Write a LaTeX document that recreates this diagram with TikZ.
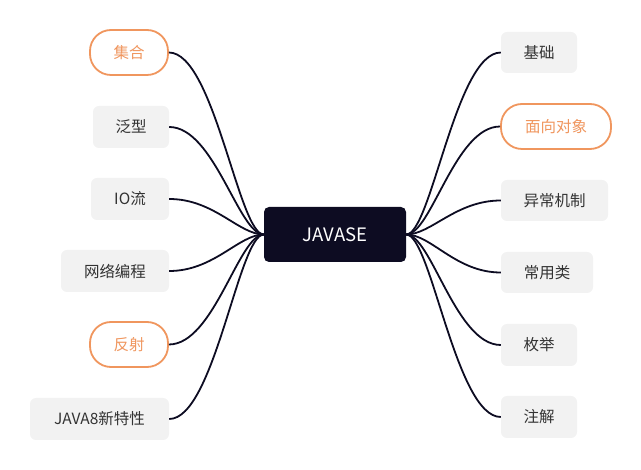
\documentclass[tikz,border=0pt]{standalone}
\usepackage{fontspec}
\newfontfamily\cjk{Noto Sans CJK SC}
\definecolor{orangeC}{HTML}{F0965E}
\definecolor{grayfill}{HTML}{F2F2F2}
\definecolor{navy}{HTML}{0D0C22}
\definecolor{txt}{HTML}{333333}
\tikzset{
  leaf/.style={fill=grayfill, rounded corners=6pt, inner sep=0pt, text=txt, font=\cjk\fontsize{15.5}{17}\selectfont},
  pill/.style={draw=orangeC, line width=1.8pt, fill=white, rounded corners=21pt, inner sep=0pt, text=orangeC, font=\cjk\fontsize{15.5}{17}\selectfont},
  root/.style={fill=navy, rounded corners=5pt, inner sep=0pt, text=white, font=\cjk\fontsize{18.5}{20}\selectfont},
  link/.style={draw=navy, line width=1.8pt}
}
\begin{document}
\begin{tikzpicture}[x=1pt,y=-1pt]
\useasboundingbox (0,0) rectangle (641,470);
\node[root, minimum width=142pt, minimum height=55pt] (c) at (335,234.5) {JAVASE};
% left
\node[pill, minimum width=78pt, minimum height=45pt] (l1) at (129,52.5) {集合};
\node[leaf, minimum width=76pt, minimum height=42pt] (l2) at (131,127) {泛型};
\node[leaf, minimum width=78pt, minimum height=42pt] (l3) at (130,199) {IO流};
\node[leaf, minimum width=108pt, minimum height=42pt] (l4) at (115,271) {网络编程};
\node[pill, minimum width=78pt, minimum height=45pt] (l5) at (129,344.5) {反射};
\node[leaf, minimum width=139pt, minimum height=42pt] (l6) at (99.5,419) {JAVA8新特性};
% right
\node[leaf, minimum width=76pt, minimum height=41pt] (r1) at (539,52.5) {基础};
\node[pill, minimum width=110pt, minimum height=45pt] (r2) at (556,126.5) {面向对象};
\node[leaf, minimum width=107pt, minimum height=41pt] (r3) at (554.5,200.5) {异常机制};
\node[leaf, minimum width=92pt, minimum height=41pt] (r4) at (547,272.5) {常用类};
\node[leaf, minimum width=76pt, minimum height=42pt] (r5) at (539,345) {枚举};
\node[leaf, minimum width=76pt, minimum height=42pt] (r6) at (539,417) {注解};
% connectors
\foreach \n in {l1,l2,l3,l4,l5,l6}{
  \draw[link] (\n.east) .. controls ([xshift=45pt]\n.east) and ([xshift=-25pt]c.west) .. (c.west);
}
\foreach \n in {r1,r2,r3,r4,r5,r6}{
  \draw[link] (\n.west) .. controls ([xshift=-45pt]\n.west) and ([xshift=25pt]c.east) .. (c.east);
}
\end{tikzpicture}
\end{document}
